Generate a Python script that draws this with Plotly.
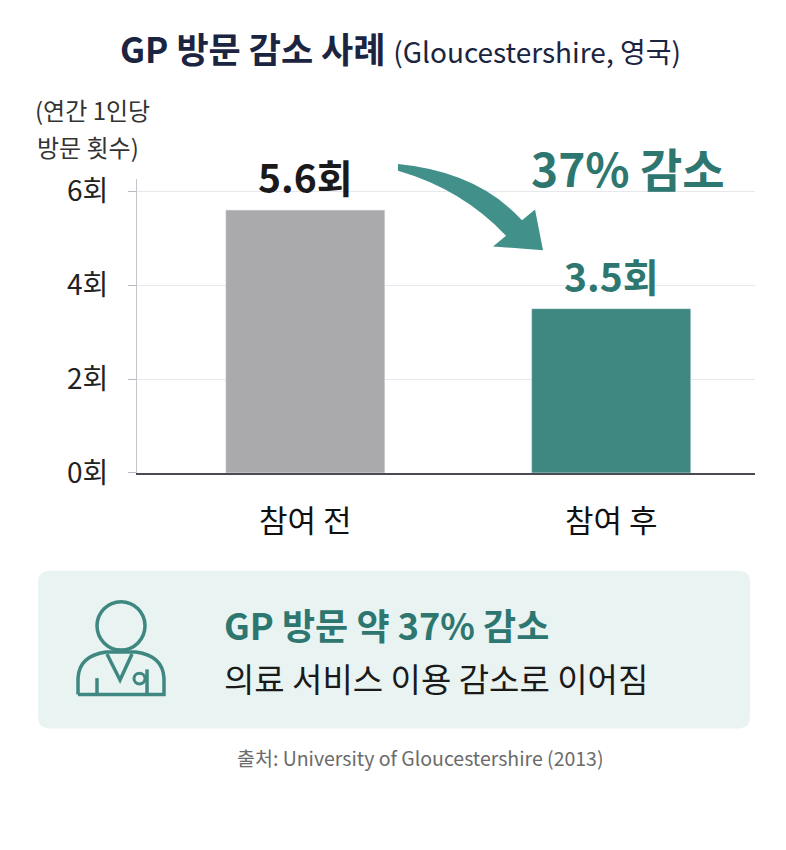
import plotly.graph_objects as go

# data
categories = ['참여 전', '참여 후']
visits = [5.6, 3.5]
value_labels = ['5.6회', '3.5회']
y_ticks = [0, 2, 4, 6]
y_tick_labels = ['0회', '2회', '4회', '6회']
reduction_pct = 37

# the page body puts the figure at (8, 8), so draw it 8px smaller
OFF = 8
W, H = 786 - OFF, 850 - OFF
KR = 'Noto Sans CJK KR'
TEAL = '#3f8781'
TEAL_TXT = '#2e7770'
GRAY = '#aaaaac'


def px(x, y):
    # screen pixel -> paper coords
    return (x - OFF) / W, 1 - (y - OFF) / H


def path(points, close=True):
    out = ''
    for p in points:
        vals = p[1:]
        coords = []
        for i in range(0, len(vals), 2):
            fx, fy = px(vals[i], vals[i + 1])
            coords.append(f'{fx:.4f},{fy:.4f}')
        out += p[0] + ' ' + ' '.join(coords) + ' '
    return out + ('Z' if close else '')


def note(x, y, text, size, color, anchor='center', **kw):
    ax, ay = px(x, y)
    return dict(x=ax, y=ay, xref='paper', yref='paper', showarrow=False, text=text,
                font=dict(size=size, color=color, family=KR), xanchor=anchor,
                yanchor='middle', **kw)


fig = go.Figure()
fig.add_trace(go.Bar(
    x=categories, y=visits,
    marker_color=[GRAY, TEAL],
    width=0.52,
    hoverinfo='skip'
))

annos = []
for cat, v, lab, col in zip(categories, visits, value_labels, ['#1a1a1a', TEAL_TXT]):
    annos.append(dict(x=cat, y=v, xref='x', yref='y', text=f'<b>{lab}</b>', showarrow=False,
                      yanchor='bottom', yshift=4, font=dict(size=39, color=col, family=KR)))

annos += [
    note(400, 40, '<b>GP 방문 감소 사례</b> <span style="font-size:28px">(Gloucestershire, 영국)</span>',
         35, '#1b2440'),
    note(92, 104, '(연간 1인당', 24, '#333333'),
    note(88, 142, '방문 횟수)', 24, '#333333'),
    note(628, 163, f'<b>{reduction_pct}% 감소</b>', 46, TEAL_TXT),
    note(222, 635, f'<b>GP 방문 약 {reduction_pct}% 감소</b>', 36, TEAL_TXT, anchor='left'),
    note(222, 691, '의료 서비스 이용 감소로 이어짐', 33, '#1a1a1a', anchor='left'),
    note(420, 773, '출처: University of Gloucestershire (2013)', 19.5, '#6b6b6b'),
]

shapes = []
# info box with rounded corners
l, t, r, b, rad = 38, 580, 750, 743, 12
shapes.append(dict(type='path', xref='paper', yref='paper', layer='below',
                   path=path([('M', l + rad, t), ('L', r - rad, t), ('Q', r, t, r, t + rad),
                              ('L', r, b - rad), ('Q', r, b, r - rad, b), ('L', l + rad, b),
                              ('Q', l, b, l, b - rad), ('L', l, t + rad), ('Q', l, t, l + rad, t)]),
                   fillcolor='#e9f3f2', line=dict(width=0)))

# curved arrow
shapes.append(dict(type='path', xref='paper', yref='paper',
                   path=path([('M', 398, 160), ('Q', 478, 168, 522, 218), ('L', 535, 207),
                              ('L', 543, 249), ('L', 493, 245), ('L', 506, 234),
                              ('Q', 462, 186, 398, 167)]),
                   fillcolor='#41918a', line=dict(width=0)))

# doctor icon
icon_line = dict(color='#3f8781', width=3.5)
cx0, cy0 = px(97, 612)
cx1, cy1 = px(145, 662)
shapes.append(dict(type='circle', xref='paper', yref='paper', x0=cx0, y0=cy1, x1=cx1, y1=cy0,
                   line=icon_line))
icon_paths = [
    [('M', 78, 708), ('L', 78, 691), ('Q', 79, 668, 106, 664), ('L', 136, 664),
     ('Q', 163, 668, 164, 691), ('L', 164, 708), ('L', 78, 708)],
    [('M', 107, 666), ('L', 120, 693), ('L', 132, 666)],
    [('M', 97, 691), ('L', 97, 708)],
    [('M', 147, 682), ('L', 147, 708)],
]
for pts in icon_paths:
    shapes.append(dict(type='path', xref='paper', yref='paper', path=path(pts, close=False),
                       line=icon_line))
sx0, sy0 = px(134, 686)
sx1, sy1 = px(145, 697)
shapes.append(dict(type='circle', xref='paper', yref='paper', x0=sx0, y0=sy1, x1=sx1, y1=sy0,
                   line=dict(color='#3f8781', width=3)))

xd0, _ = px(137, 0)
xd1, _ = px(755, 0)
_, yd0 = px(0, 479)
_, yd1 = px(0, 175)

fig.update_layout(
    width=W, height=H,
    margin=dict(l=0, r=0, t=0, b=0),
    paper_bgcolor='white', plot_bgcolor='white',
    showlegend=False,
    annotations=annos,
    shapes=shapes,
    xaxis=dict(domain=[xd0, xd1], range=[-0.55, 1.47],
               showline=True, linecolor='#4a4a55', linewidth=1.5,
               tickfont=dict(size=31, color='#111111', family=KR),
               ticks='', ticklabelstandoff=20, fixedrange=True),
    yaxis=dict(domain=[yd0, yd1], range=[0, 6.27],
               tickvals=y_ticks, ticktext=y_tick_labels,
               tickfont=dict(size=28, color='#222222', family=KR),
               showgrid=True, gridcolor='#e6e8ee', gridwidth=1,
               zeroline=False, showline=True, linecolor='#c4c4cc', linewidth=1,
               ticks='outside', ticklen=8, tickcolor='#b8b8c0', ticklabelstandoff=14,
               fixedrange=True),
)

fig.write_html('out.html')
